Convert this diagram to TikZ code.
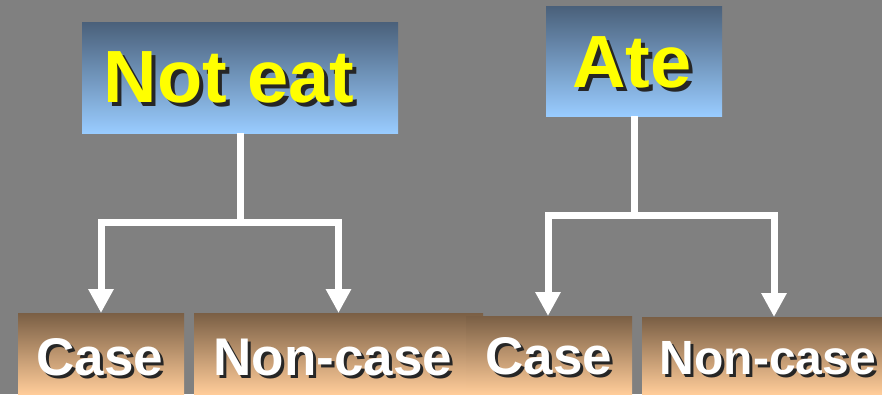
\documentclass[tikz,border=0pt]{standalone}
\usepackage{fontspec}
\setmainfont{Liberation Sans}
\usetikzlibrary{arrows.meta}
\definecolor{bg}{HTML}{808080}
\definecolor{bluetop}{HTML}{4A607A}
\definecolor{bluebot}{HTML}{99CCFF}
\definecolor{browntop}{HTML}{7A5F45}
\definecolor{brownbot}{HTML}{FFCC99}
\definecolor{txtyellow}{HTML}{FFFF00}
\newcommand\shadowed[2][3pt]{\rlap{\kern#1\raisebox{-#1}{\color{black!85}#2}}#2}
\begin{document}
\begin{tikzpicture}[x=1pt,y=-1pt,
 topbox/.style={anchor=north west, inner sep=0pt, outer sep=0pt, top color=bluetop, bottom color=bluebot, draw=none},
 botbox/.style={anchor=north west, inner sep=0pt, outer sep=0pt, top color=browntop, bottom color=brownbot, draw=none},
 toplabel/.style={anchor=base, inner sep=0pt, text=txtyellow, font=\bfseries\fontsize{74}{74}\selectfont},
 botlabel/.style={anchor=base, inner sep=0pt, text=white, font=\bfseries\fontsize{53}{53}\selectfont},
 link/.style={draw=white, line width=7pt},
 arr/.style={link, -{Triangle[width=24pt,length=24pt]}}]
\fill[bg] (0,0) rectangle (882,394);
\useasboundingbox (0,0) rectangle (882,394);
% boxes
\node[topbox, minimum width=316pt, minimum height=111pt] (ne) at (82,22) {};
\node[topbox, minimum width=176pt, minimum height=110pt] (ate) at (546,6) {};
\node[botbox, minimum width=166pt, minimum height=81pt] (c1) at (18,313) {};
\node[botbox, minimum width=289pt, minimum height=81pt] (n1) at (194,313) {};
\node[botbox, minimum width=166pt, minimum height=78pt] (c2) at (466,316) {};
\node[botbox, minimum width=240pt, minimum height=77pt] (n2) at (642,317) {};
% connectors
\coordinate (j1) at (240,222);
\coordinate (j2) at (634,215);
\draw[link] (ne.south) -- (j1);
\draw[arr] (j1) -| (c1.north);
\draw[arr] (j1) -| (n1.north);
\draw[link] (ate.south) -- (j2);
\draw[arr] (j2) -| ([xshift=-1pt]c2.north);
\draw[arr] (j2) -| ([xshift=12pt]n2.north);
% labels
\node[toplabel] (tne) at (229,102) {\shadowed[4pt]{Not eat}};
\node[toplabel] (tate) at (632,87) {\shadowed[4pt]{Ate}};
\node[botlabel] (tc1) at (100,375) {\shadowed{Case}};
\node[botlabel] (tn1) at (333,375) {\shadowed{Non-case}};
\node[botlabel] (tc2) at (549,374) {\shadowed{Case}};
\node[botlabel, font=\bfseries\fontsize{48}{48}\selectfont] (tn2) at (768,374) {\shadowed{Non-case}};
\end{tikzpicture}
\end{document}
